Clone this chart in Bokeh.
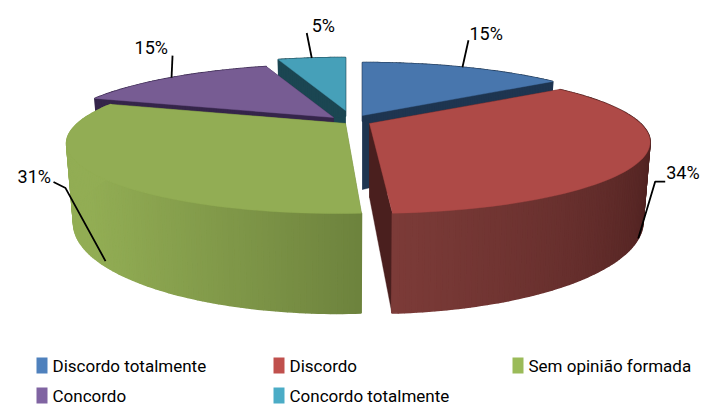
import math

from bokeh.core.properties import value
from bokeh.embed import file_html
from bokeh.models import Range1d
from bokeh.plotting import figure
from bokeh.resources import INLINE

# Survey shares, clockwise from twelve o'clock
categories = ["Discordo totalmente", "Discordo", "Sem opinião formada", "Concordo", "Concordo totalmente"]
shares = [15, 34, 31, 15, 5]
share_labels = ["15%", "34%", "31%", "15%", "5%"]

# Slice colours: top face, lit end of the rim, shaded end of the rim, cut face
top_colors = ["#4876ad", "#ae4a47", "#92ad54", "#775c93", "#46a0b9"]
legend_colors = ["#4f81bd", "#c0504d", "#9bbb59", "#8064a2", "#4bacc6"]
rim_light = ["#2b4a6e", "#7c3b38", "#92ad54", "#35254a", "#1b4652"]
rim_dark = ["#1e3550", "#4a1f1e", "#6d823d", "#35254a", "#1b4652"]
cut_colors = ["#1e3550", "#4a1f1e", "#6d823d", "#35254a", "#1b4652"]

# Projection of the tilted pie onto the page
RADIUS_Y, DEPTH, PERSPECTIVE, BASE_TAPER = 66.7, 74, 0.259, 0.975
radius_x = [271, 271, 268, 271, 271]
skew_x = [0, 0, -5, 0, 0]
apex_x = [362, 369, 345, 333, 345]
apex_y = [115, 123, 123, 117, 110]

# Leader routes relative to the rim anchor, and where each label sits
leader_offsets = [
    [(0, 0), (6, -27)],
    [(0, 0), (17, -57), (27, -57)],
    [(9, 1), (-31, -72), (-43, -78)],
    [(0, 0), (1, -22)],
    [(0, 0), (-5, -25)],
]
label_offsets = [(7, -34), (28, -66), (-79, -84), (-37, -30), (0, -33)]
leader_on_bottom = [False, True, True, False, False]

legend_x = [36, 273, 512, 36, 273]
legend_y = [365, 365, 365, 395, 395]

FONT = "Roboto"


def project(i, degrees, radial=1.0, drop=False):
    """Page position of a point on slice i at a clock angle and radial fraction."""
    a = math.radians(degrees)
    x, y = radial * math.sin(a), radial * math.cos(a)
    s = 1 / (1 + PERSPECTIVE * y)
    dx = radius_x[i] * x * s - skew_x[i] * y * s
    py = apex_y[i] - RADIUS_Y * y * s
    if drop:
        dx *= BASE_TAPER
        py += DEPTH * s
    return apex_x[i] + dx, py


def mix(c1, c2, t):
    a = [int(c1[k:k + 2], 16) for k in (1, 3, 5)]
    b = [int(c2[k:k + 2], 16) for k in (1, 3, 5)]
    return "#%02x%02x%02x" % tuple(round(u + (v - u) * t) for u, v in zip(a, b))


p = figure(
    width=703, height=405, output_backend="svg", toolbar_location=None,
    x_range=Range1d(0, 703), y_range=Range1d(405, 0),
    min_border=0, outline_line_color=None, background_fill_color="white",
)
p.xaxis.visible = False
p.yaxis.visible = False
p.grid.visible = False

edges = [0.0]
for share in shares:
    edges.append(edges[-1] + share / sum(shares) * 360)


def add_polygon(points, color, width=1.0):
    p.patch([q[0] for q in points], [q[1] for q in points],
            fill_color=color, line_color=color, line_width=width)


def draw_slice(i):
    start, end = edges[i], edges[i + 1]
    # Cut faces at both radial edges
    for angle in (start, end):
        add_polygon([project(i, angle, 0), project(i, angle), project(i, angle, drop=True),
                     project(i, angle, 0, drop=True)], cut_colors[i], 0.4)
    # Rim, shaded along its length
    steps = max(2, int(end - start))
    for k in range(steps):
        a0 = start + (end - start) * k / steps
        a1 = start + (end - start) * (k + 1) / steps
        mid = (a0 + a1) / 2
        if i == 1:
            t = min(1, max(0, (mid - 100) / (edges[2] - 100)))
            color = mix(rim_dark[i], rim_light[i], t)
        elif i == 2:
            t = min(1, max(0, (235 - mid) / (235 - edges[2]))) ** 1.5
            color = mix(rim_light[i], rim_dark[i], t)
        else:
            color = rim_dark[i]
        add_polygon([project(i, a0), project(i, a1), project(i, a1, drop=True), project(i, a0, drop=True)], color, 1.6)
    # Top face
    angles = [start + (end - start) * k / 60 for k in range(61)]
    add_polygon([project(i, 0, 0)] + [project(i, a) for a in angles], top_colors[i], 0.4)


# Back slices first so the nearer ones overlap them
for i in (0, 4, 3, 2, 1):
    draw_slice(i)

# Leader lines and percentage labels, anchored on each slice's mid angle
for i, text in enumerate(share_labels):
    mid = (edges[i] + edges[i + 1]) / 2
    ax, ay = project(i, mid, drop=leader_on_bottom[i])
    p.line([ax + dx for dx, _ in leader_offsets[i]], [ay + dy for _, dy in leader_offsets[i]],
           line_color="black", line_width=1.8)
    lx, ly = label_offsets[i]
    p.text(x=[ax + lx], y=[ay + ly], text=[text], text_font=value(FONT), text_font_size="18px",
           text_color="black", text_baseline="middle", text_align="left")

# Legend in two rows
p.quad(left=legend_x, right=[x + 11 for x in legend_x],
       top=[y - 8 for y in legend_y], bottom=[y + 8 for y in legend_y],
       fill_color=legend_colors, line_color=None)
p.text(x=[x + 16 for x in legend_x], y=legend_y, text=categories, text_font=value(FONT),
       text_font_size="17px", text_color="black", text_baseline="middle", text_align="left")

open("out.html", "w").write(file_html(p, INLINE))
